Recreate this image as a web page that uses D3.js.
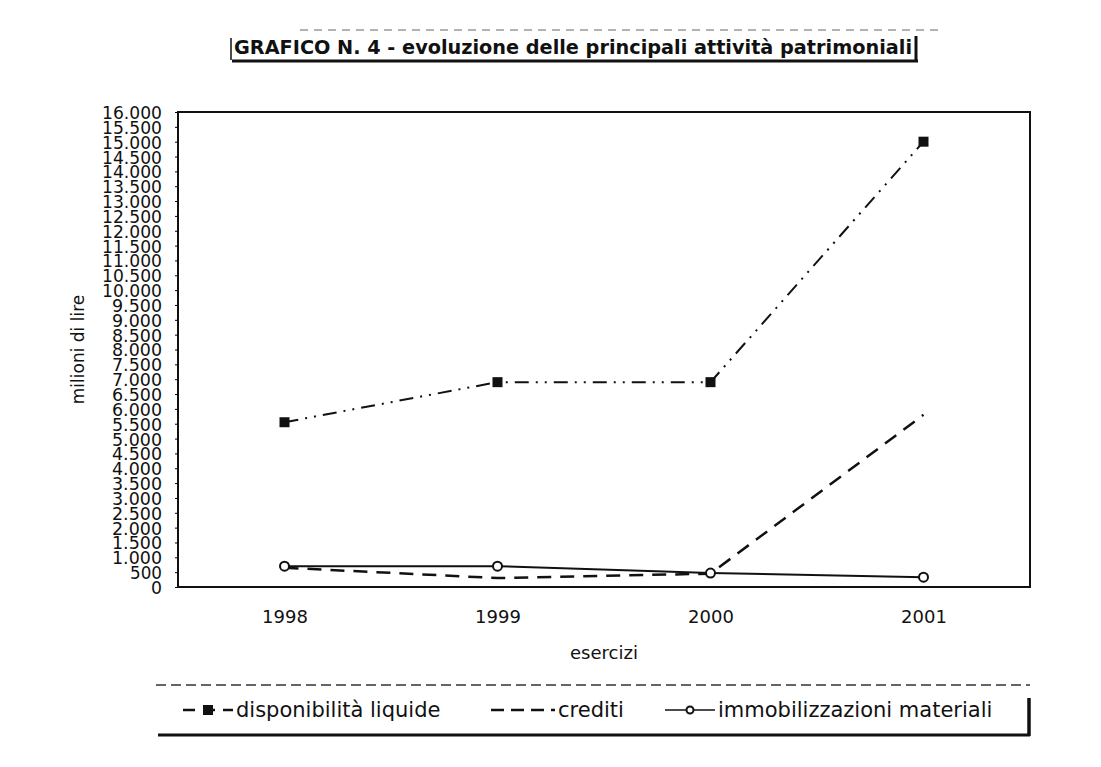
<!DOCTYPE html>
<html>
<head>
<meta charset="utf-8">
<script src="https://cdn.jsdelivr.net/npm/d3@7"></script>
<style>
  body { margin: 0; background: #fff; }
  text { font-family: Verdana, 'DejaVu Sans', sans-serif; fill: #111; }
</style>
</head>
<body>
<svg class="chart"></svg>
<script>
// ----- Data -----
let years = ['1998', '1999', '2000', '2001']
let disponibilita = [5550, 6900, 6900, 15000]
let crediti = [650, 300, 450, 5800]
let immobilizzazioni = [700, 700, 470, 330]
let yTicks = d3.range(0, 16001, 500)

let seriesNames = ['disponibilità liquide', 'crediti', 'immobilizzazioni materiali']

// SVG
let svgWidth = 1101
let svgHeight = 767
let svg = d3.select('.chart')
            .attr('width', svgWidth)
            .attr('height', svgHeight)

let plot = {left: 178, right: 1030, top: 112, bottom: 587}

let x = d3.scalePoint()
          .domain(years)
          .range([plot.left, plot.right])
          .padding(0.5)

let y = d3.scaleLinear()
          .domain([0, 16000])
          .range([plot.bottom, plot.top])

let itFormat = d3.formatLocale({decimal: ',', thousands: '.', grouping: [3], currency: ['', '']}).format(',')

// Title
svg.append('text')
   .attr('x', 234)
   .attr('y', 54)
   .text('GRAFICO N. 4 - evoluzione delle principali attività patrimoniali')
   .attr('font-size', '19px')
   .attr('font-weight', 'bold')
   .attr('textLength', 678)
   .attr('lengthAdjust', 'spacingAndGlyphs')

// title box: thin left bar, thick right bar and bottom shadow
svg.append('line').attr('x1', 231).attr('y1', 38).attr('x2', 231).attr('y2', 60)
   .attr('stroke', '#111').attr('stroke-width', 1.5)
svg.append('line').attr('x1', 916).attr('y1', 36).attr('x2', 916).attr('y2', 62)
   .attr('stroke', '#111').attr('stroke-width', 3)
svg.append('line').attr('x1', 232).attr('y1', 61).attr('x2', 918).attr('y2', 61)
   .attr('stroke', '#111').attr('stroke-width', 3)
svg.append('line').attr('x1', 300).attr('y1', 30).attr('x2', 940).attr('y2', 30)
   .attr('stroke', '#666').attr('stroke-width', 1).attr('stroke-dasharray', '8,6')

// Plot frame
svg.append('rect')
   .attr('x', plot.left)
   .attr('y', plot.top)
   .attr('width', plot.right - plot.left)
   .attr('height', plot.bottom - plot.top)
   .attr('fill', 'none')
   .attr('stroke', '#111')
   .attr('stroke-width', 2)

// Y axis (labels are tall and squeezed, as in the scan)
let yAxis = svg.append('g')
               .attr('transform', 'translate(' + plot.left + ',0)')
               .call(d3.axisLeft(y).tickValues(yTicks).tickFormat(itFormat).tickSize(3).tickPadding(13))
yAxis.select('.domain').remove()
yAxis.selectAll('text')
     .attr('font-size', '18px')
     .attr('font-family', 'Verdana, "DejaVu Sans", sans-serif')
     .attr('fill', '#111')
     .attr('dy', '0.36em')
     .attr('textLength', function (d) { return d >= 10000 ? 60 : (d >= 1000 ? 50 : (d > 0 ? 32 : 11)) })
     .attr('lengthAdjust', 'spacingAndGlyphs')

svg.append('text')
   .attr('transform', 'translate(84,' + ((plot.top + plot.bottom) / 2) + ') rotate(-90)')
   .attr('text-anchor', 'middle')
   .attr('font-size', '17px')
   .text('milioni di lire')

// X axis
let xAxis = svg.append('g')
               .attr('transform', 'translate(0,' + plot.bottom + ')')
               .call(d3.axisBottom(x).tickSize(0).tickPadding(23))
xAxis.select('.domain').remove()
xAxis.selectAll('text')
     .attr('font-size', '18px')
     .attr('font-family', 'Verdana, "DejaVu Sans", sans-serif')
     .attr('fill', '#111')

svg.append('text')
   .attr('x', (plot.left + plot.right) / 2)
   .attr('y', 659)
   .attr('text-anchor', 'middle')
   .attr('font-size', '18px')
   .text('esercizi')

// Lines
let line = d3.line()
             .x(function (d, i) { return x(years[i]) })
             .y(function (d) { return y(d) })

let styles = [
  {data: disponibilita, dash: '14,7,2,7,2,7', width: 2},
  {data: crediti, dash: '14,9', width: 2.5},
  {data: immobilizzazioni, dash: null, width: 2}
]

styles.forEach(function (s) {
  svg.append('path')
     .datum(s.data)
     .attr('d', line)
     .attr('fill', 'none')
     .attr('stroke', '#111')
     .attr('stroke-width', s.width)
     .attr('stroke-dasharray', s.dash)
})

// markers
svg.selectAll('.sq')
   .data(disponibilita)
   .enter()
   .append('rect')
   .attr('x', function (d, i) { return x(years[i]) - 5 })
   .attr('y', function (d) { return y(d) - 5 })
   .attr('width', 10)
   .attr('height', 10)
   .attr('fill', '#111')

svg.selectAll('.circ')
   .data(immobilizzazioni)
   .enter()
   .append('circle')
   .attr('cx', function (d, i) { return x(years[i]) })
   .attr('cy', function (d) { return y(d) })
   .attr('r', 4.5)
   .attr('fill', '#fff')
   .attr('stroke', '#111')
   .attr('stroke-width', 2)

// ----- Legend -----
let legendY = 710
svg.append('line').attr('x1', 156).attr('y1', 685).attr('x2', 1030).attr('y2', 685)
   .attr('stroke', '#333').attr('stroke-width', 1.5).attr('stroke-dasharray', '10,5')
svg.append('line').attr('x1', 158).attr('y1', 735).attr('x2', 1030).attr('y2', 735)
   .attr('stroke', '#111').attr('stroke-width', 3)
svg.append('line').attr('x1', 1029).attr('y1', 698).attr('x2', 1029).attr('y2', 736)
   .attr('stroke', '#111').attr('stroke-width', 3.5)

let legendItems = [
  {x: 183, w: 50, dash: '12,8', marker: 'square'},
  {x: 491, w: 64, dash: '13,7', marker: null},
  {x: 665, w: 50, dash: null, marker: 'circle'}
]

legendItems.forEach(function (item, i) {
  svg.append('line')
     .attr('x1', item.x).attr('y1', legendY)
     .attr('x2', item.x + item.w).attr('y2', legendY)
     .attr('stroke', '#111')
     .attr('stroke-width', item.marker === 'circle' ? 1.5 : 2.5)
     .attr('stroke-dasharray', item.dash)
  if (item.marker === 'square') {
    svg.append('rect')
       .attr('x', item.x + item.w / 2 - 5).attr('y', legendY - 5)
       .attr('width', 10).attr('height', 10)
       .attr('fill', '#111')
  }
  if (item.marker === 'circle') {
    svg.append('circle')
       .attr('cx', item.x + item.w / 2).attr('cy', legendY)
       .attr('r', 3.5)
       .attr('fill', '#fff').attr('stroke', '#111').attr('stroke-width', 2)
  }
  svg.append('text')
     .attr('x', item.x + item.w + 3)
     .attr('y', legendY)
     .attr('dy', '0.35em')
     .attr('font-size', '21px')
     .text(seriesNames[i])
})
</script>
</body>
</html>
